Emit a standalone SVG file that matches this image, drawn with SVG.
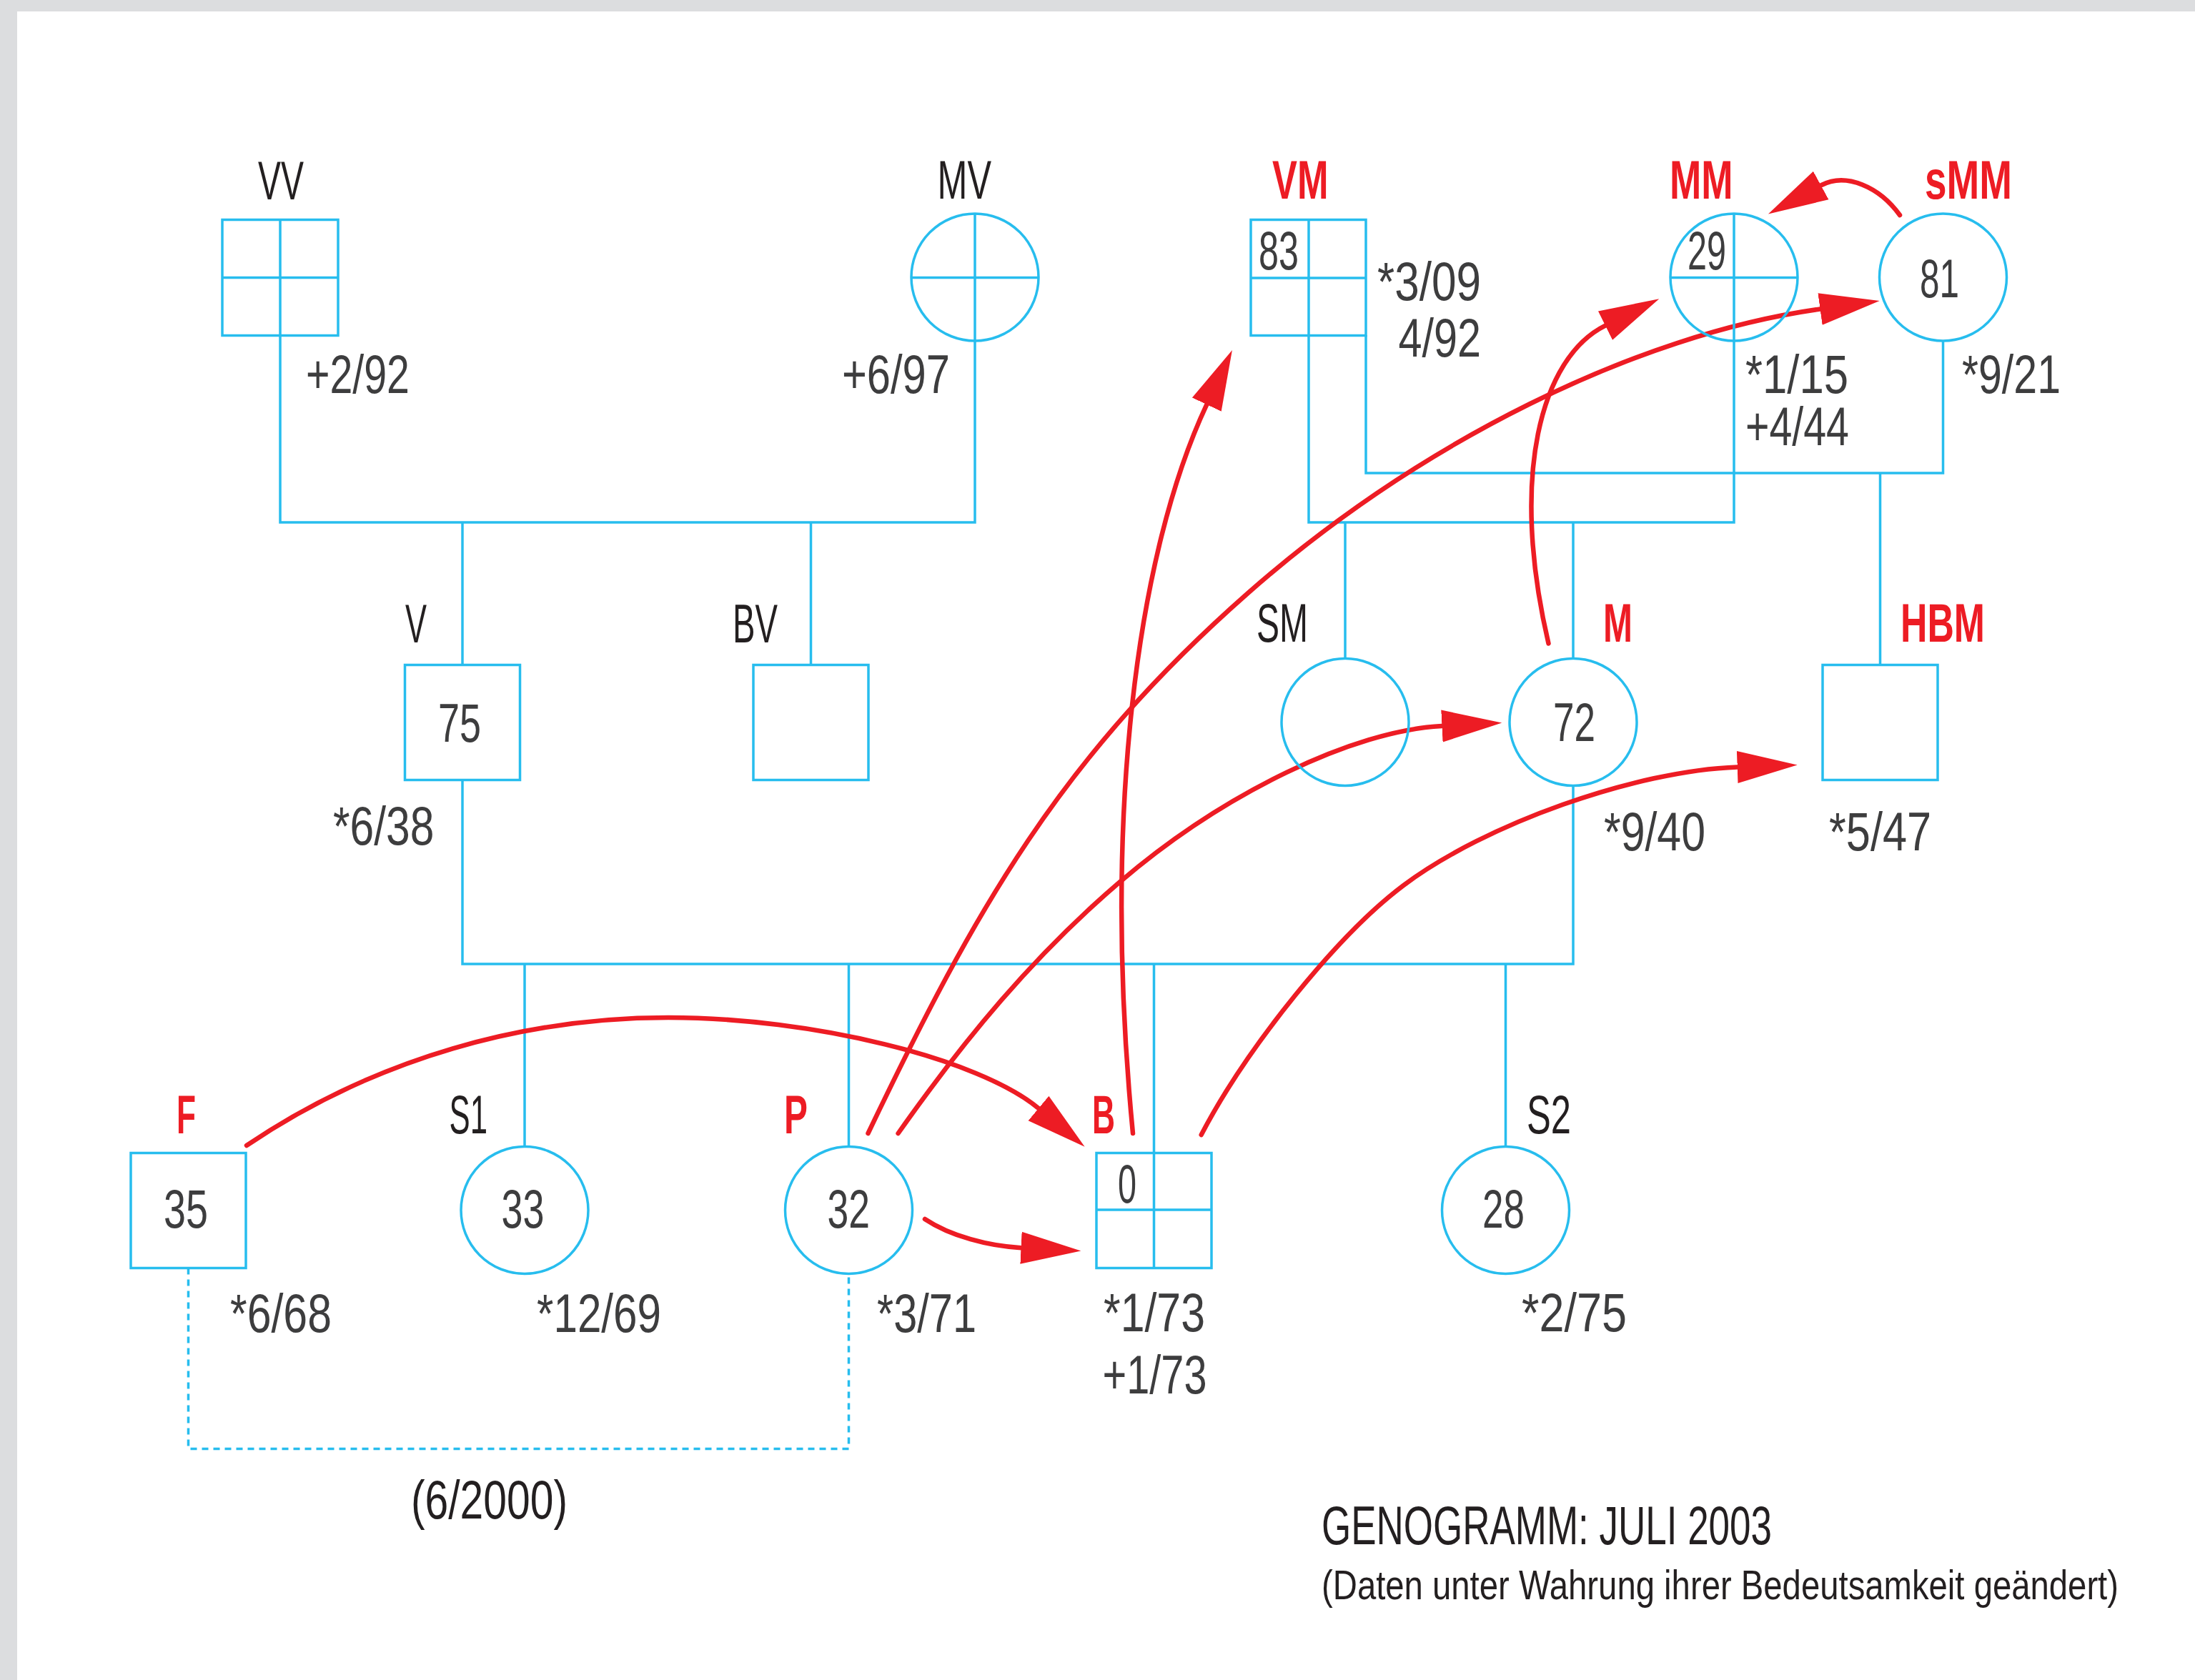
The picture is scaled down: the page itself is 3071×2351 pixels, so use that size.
<svg xmlns="http://www.w3.org/2000/svg" width="3071" height="2351" viewBox="0 0 3071 2351">
<style>
.bl{fill:none;stroke:#27bdee;stroke-width:3.5}
.dash{fill:none;stroke:#27bdee;stroke-width:3.5;stroke-dasharray:9 7}
.rd{fill:none;stroke:#ed1c24;stroke-width:6.5;stroke-linecap:round;marker-end:url(#ah)}
text{font-family:"Liberation Sans",Arial,sans-serif;font-size:76px}
.lbl{fill:#231f20}
.rl{fill:#ed1c24;font-weight:bold}
.num{fill:#3d3d3e}
.cap{fill:#231f20}
</style>
<defs>
<marker id="ah" markerUnits="userSpaceOnUse" viewBox="0 -24 86 48" markerWidth="86" markerHeight="48" refX="0" refY="0" orient="auto">
<path d="M0,-22.5 L84,0 L0,22.5 Z" fill="#ed1c24"/>
</marker>
</defs>
<rect x="0" y="0" width="3071" height="2351" fill="#ffffff"/>
<rect x="0" y="0" width="3071" height="16" fill="#dcdddf"/>
<rect x="0" y="0" width="24" height="2351" fill="#dcdddf"/>

<g id="connectors">
<path class="bl" d="M392,469.5 V731 H1364 V477"/>
<path class="bl" d="M647,731 V930.5"/>
<path class="bl" d="M1134.5,731 V930.5"/>
<path class="bl" d="M1831,469 V731 H2426 V477"/>
<path class="bl" d="M1911,469 V662 H2718.5 V477"/>
<path class="bl" d="M1882,731 V921.5"/>
<path class="bl" d="M2201,731 V921.5"/>
<path class="bl" d="M2630.5,662 V930.5"/>
<path class="bl" d="M647,1091.5 V1349 H2201 V1099.5"/>
<path class="bl" d="M734,1349 V1604.5"/>
<path class="bl" d="M1187.5,1349 V1604.5"/>
<path class="bl" d="M1614.5,1349 V1613.5"/>
<path class="bl" d="M2106.5,1349 V1604.5"/>
<path class="dash" d="M263.5,1774.5 V2027.5 H1187.5 V1782.5"/>

<path class="rd" d="M345,1603 C527.6,1479.8 735,1424 935,1424 C1136,1424 1369,1481.2 1453,1551"/>
<path class="rd" d="M1294,1706 C1330,1730 1383.6,1743.9 1428.5,1746.2"/>
<path class="rd" d="M1585,1586 C1542,1140 1590.8,774.3 1688.3,566.1"/>
<path class="rd" d="M1214.5,1586 C1365,1271 1483.5,1061 1746,830 C1986,618.8 2289.1,468.4 2546.5,432.5"/>
<path class="rd" d="M1256.6,1586 C1348.8,1455.3 1445.4,1338 1567,1234 C1711.4,1110.5 1892.8,1022.5 2017.4,1016"/>
<path class="rd" d="M1680.7,1588 C1745.5,1464 1872.6,1307.2 1963.8,1238.8 C2078.2,1153 2288.8,1078.4 2430.7,1073.4"/>
<path class="rd" d="M2166.5,900.5 C2111.8,666.7 2155.6,500.5 2246,455.6"/>
<path class="rd" d="M2658,301 C2630,262 2582.8,240.3 2547.7,259.4"/>
</g>

<g id="VV">
<rect class="bl" x="311" y="307.5" width="162" height="162"/>
<path class="bl" d="M392,307.5 V469.5 M311,388.5 H473"/>
<text class="lbl" x="361" y="279" textLength="64" lengthAdjust="spacingAndGlyphs">VV</text>
<text class="num" x="428" y="550" textLength="145" lengthAdjust="spacingAndGlyphs">+2/92</text>
</g>
<g id="MV">
<circle class="bl" cx="1364" cy="388" r="89"/>
<path class="bl" d="M1364,299 V477 M1275,388.5 H1453"/>
<text class="lbl" x="1311.5" y="278" textLength="75.5" lengthAdjust="spacingAndGlyphs">MV</text>
<text class="num" x="1178" y="550" textLength="151" lengthAdjust="spacingAndGlyphs">+6/97</text>
</g>
<g id="VM">
<rect class="bl" x="1750" y="307.5" width="161" height="162"/>
<path class="bl" d="M1831,307.5 V469.5 M1750,389 H1911"/>
<text class="rl" x="1780" y="278" textLength="78.5" lengthAdjust="spacingAndGlyphs">VM</text>
<text class="num" x="1761" y="377" textLength="56" lengthAdjust="spacingAndGlyphs">83</text>
<text class="num" x="1927" y="420" textLength="145" lengthAdjust="spacingAndGlyphs">*3/09</text>
<text class="num" x="1956.5" y="499" textLength="115.5" lengthAdjust="spacingAndGlyphs">4/92</text>
</g>
<g id="MM">
<circle class="bl" cx="2426" cy="388" r="89"/>
<path class="bl" d="M2426,299 V477 M2337,388.5 H2515"/>
<text class="rl" x="2336" y="278" textLength="88.5" lengthAdjust="spacingAndGlyphs">MM</text>
<text class="num" x="2361" y="377" textLength="54" lengthAdjust="spacingAndGlyphs">29</text>
<text class="num" x="2442" y="550" textLength="144" lengthAdjust="spacingAndGlyphs">*1/15</text>
<text class="num" x="2442" y="623" textLength="145" lengthAdjust="spacingAndGlyphs">+4/44</text>
</g>
<g id="sMM">
<circle class="bl" cx="2718.5" cy="388" r="89"/>
<text class="rl" x="2693" y="278" textLength="122" lengthAdjust="spacingAndGlyphs">sMM</text>
<text class="num" x="2686" y="416" textLength="55" lengthAdjust="spacingAndGlyphs">81</text>
<text class="num" x="2745" y="550" textLength="138" lengthAdjust="spacingAndGlyphs">*9/21</text>
</g>
<g id="V">
<rect class="bl" x="566.5" y="930.5" width="161" height="161"/>
<text class="lbl" x="567" y="899" textLength="30" lengthAdjust="spacingAndGlyphs">V</text>
<text class="num" x="613" y="1038" textLength="60" lengthAdjust="spacingAndGlyphs">75</text>
<text class="num" x="466" y="1182" textLength="141.5" lengthAdjust="spacingAndGlyphs">*6/38</text>
</g>
<g id="BV">
<rect class="bl" x="1054" y="930.5" width="161" height="161"/>
<text class="lbl" x="1025" y="899" textLength="63" lengthAdjust="spacingAndGlyphs">BV</text>
</g>
<g id="SM">
<circle class="bl" cx="1882" cy="1010.5" r="89"/>
<text class="lbl" x="1758" y="898" textLength="72" lengthAdjust="spacingAndGlyphs">SM</text>
</g>
<g id="M">
<circle class="bl" cx="2201" cy="1010.5" r="89"/>
<text class="rl" x="2243" y="898" textLength="41" lengthAdjust="spacingAndGlyphs">M</text>
<text class="num" x="2173" y="1037" textLength="59" lengthAdjust="spacingAndGlyphs">72</text>
<text class="num" x="2244" y="1190" textLength="142" lengthAdjust="spacingAndGlyphs">*9/40</text>
</g>
<g id="HBM">
<rect class="bl" x="2550" y="930.5" width="161" height="161"/>
<text class="rl" x="2659" y="898" textLength="118" lengthAdjust="spacingAndGlyphs">HBM</text>
<text class="num" x="2559" y="1190" textLength="143" lengthAdjust="spacingAndGlyphs">*5/47</text>
</g>
<g id="F">
<rect class="bl" x="183" y="1613.5" width="161" height="161"/>
<text class="rl" x="247" y="1586" textLength="27" lengthAdjust="spacingAndGlyphs">F</text>
<text class="num" x="229" y="1718" textLength="62" lengthAdjust="spacingAndGlyphs">35</text>
<text class="num" x="322" y="1864" textLength="142" lengthAdjust="spacingAndGlyphs">*6/68</text>
</g>
<g id="S1">
<circle class="bl" cx="734" cy="1693.5" r="89"/>
<text class="lbl" x="628.5" y="1586" textLength="53.5" lengthAdjust="spacingAndGlyphs">S1</text>
<text class="num" x="701.5" y="1718" textLength="60" lengthAdjust="spacingAndGlyphs">33</text>
<text class="num" x="751" y="1864" textLength="174" lengthAdjust="spacingAndGlyphs">*12/69</text>
</g>
<g id="P">
<circle class="bl" cx="1187.5" cy="1693.5" r="89"/>
<text class="rl" x="1097" y="1586" textLength="33" lengthAdjust="spacingAndGlyphs">P</text>
<text class="num" x="1157.5" y="1718" textLength="59.5" lengthAdjust="spacingAndGlyphs">32</text>
<text class="num" x="1227" y="1864" textLength="139" lengthAdjust="spacingAndGlyphs">*3/71</text>
</g>
<g id="B">
<rect class="bl" x="1534" y="1613.5" width="161" height="161"/>
<path class="bl" d="M1614.5,1613.5 V1774.5 M1534,1693 H1695"/>
<text class="rl" x="1528" y="1586" textLength="32" lengthAdjust="spacingAndGlyphs">B</text>
<text class="num" x="1564" y="1683" textLength="26" lengthAdjust="spacingAndGlyphs">0</text>
<text class="num" x="1544" y="1863" textLength="142" lengthAdjust="spacingAndGlyphs">*1/73</text>
<text class="num" x="1542.5" y="1950" textLength="146" lengthAdjust="spacingAndGlyphs">+1/73</text>
</g>
<g id="S2">
<circle class="bl" cx="2106.5" cy="1693.5" r="89"/>
<text class="lbl" x="2136" y="1586" textLength="62" lengthAdjust="spacingAndGlyphs">S2</text>
<text class="num" x="2074" y="1718" textLength="59" lengthAdjust="spacingAndGlyphs">28</text>
<text class="num" x="2129" y="1863" textLength="147" lengthAdjust="spacingAndGlyphs">*2/75</text>
</g>
<g id="labels">
<text class="cap" x="575" y="2125" textLength="219" lengthAdjust="spacingAndGlyphs">(6/2000)</text>
<text class="cap" x="1849" y="2161" textLength="630" lengthAdjust="spacingAndGlyphs">GENOGRAMM: JULI 2003</text>
<text class="cap" transform="translate(1849,2238) scale(0.8,1)" x="0" y="0" style="font-size:57px" textLength="1393.75" lengthAdjust="spacingAndGlyphs">(Daten unter Wahrung ihrer Bedeutsamkeit geändert)</text>
</g>
</svg>
